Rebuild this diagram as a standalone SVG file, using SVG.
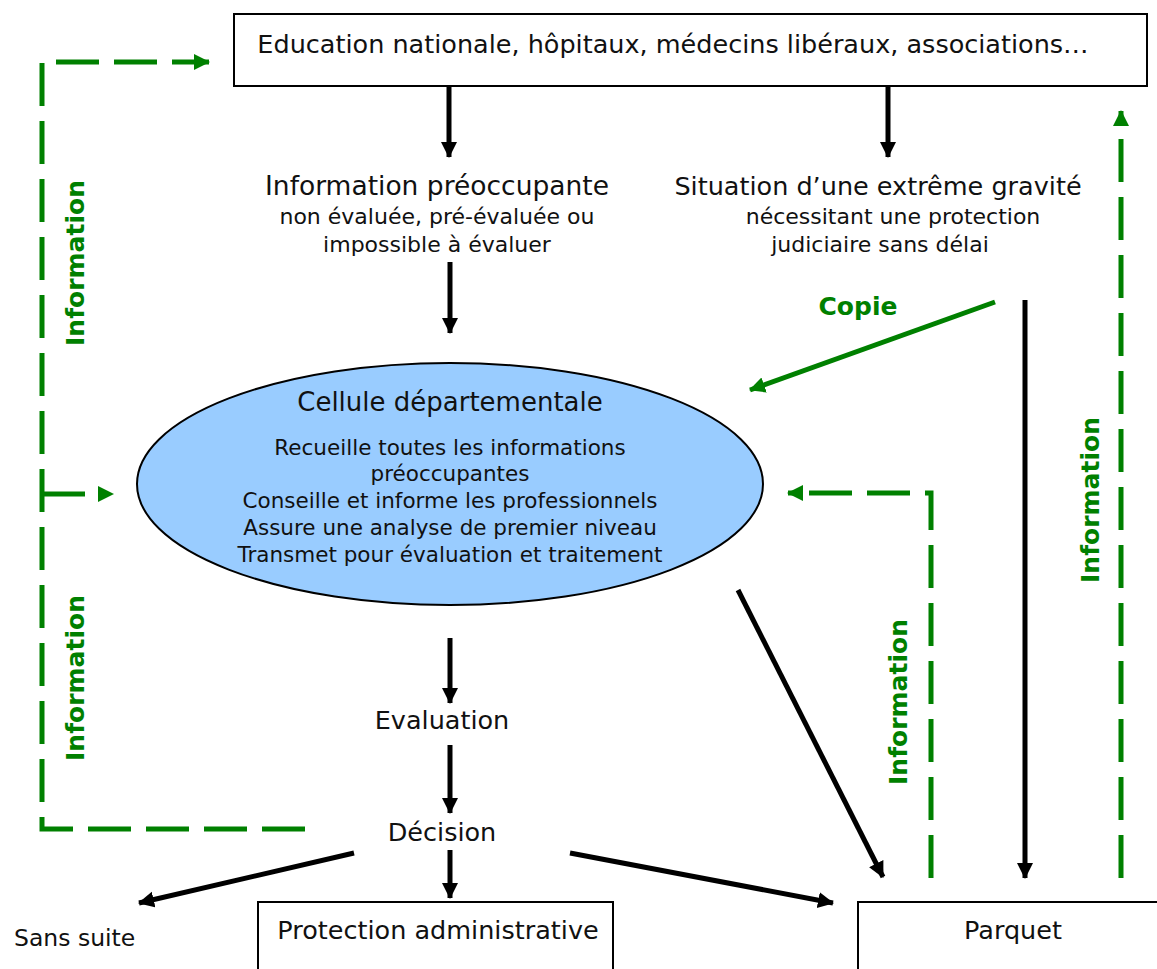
<svg xmlns="http://www.w3.org/2000/svg" width="1157" height="969" viewBox="0 0 1157 969">
<defs>
<style>
text{font-family:"DejaVu Sans","Liberation Sans",sans-serif;fill:#111;}
.t22{font-size:25.5px;}
.t20{font-size:22px;}
.t19{font-size:21.5px;}
.t24{font-size:26px;}
.g{fill:#008000;font-weight:bold;font-size:25px;}
.blk{stroke:#000;stroke-width:5;fill:none;}
.grn{stroke:#008000;stroke-width:5;fill:none;}
.dash{stroke-dasharray:43 15;}
.box{fill:#fff;stroke:#000;stroke-width:2;}
</style>
<marker id="ab" markerUnits="userSpaceOnUse" markerWidth="18" markerHeight="18" refX="15" refY="8" orient="auto"><path d="M0,0 L16,8 L0,16 Z" fill="#000"/></marker>
<marker id="ag" markerUnits="userSpaceOnUse" markerWidth="18" markerHeight="18" refX="15" refY="8" orient="auto"><path d="M0,0 L16,8 L0,16 Z" fill="#008000"/></marker>
</defs>
<g id="top"><rect class="box" x="234" y="14" width="913" height="72"/><text class="t22" x="673" y="53" text-anchor="middle">Education nationale, hôpitaux, médecins libéraux, associations…</text></g>
<g id="ip"><text class="t22" x="437" y="195" text-anchor="middle" style="font-size:26.5px">Information préoccupante</text><text class="t20" x="437" y="224" text-anchor="middle">non évaluée, pré-évaluée ou</text><text class="t20" x="437" y="252" text-anchor="middle">impossible à évaluer</text></g>
<g id="sit"><text class="t22" x="878" y="195" text-anchor="middle">Situation d’une extrême gravité</text><text class="t20" x="893" y="224" text-anchor="middle">nécessitant une protection</text><text class="t20" x="880" y="252" text-anchor="middle">judiciaire sans délai</text></g>
<g id="cell"><ellipse cx="450" cy="484" rx="313" ry="121" fill="#99CCFF" stroke="#000" stroke-width="2"/>
<text class="t24" x="450" y="411" text-anchor="middle">Cellule départementale</text>
<text class="t19" x="450" y="455" text-anchor="middle">Recueille toutes les informations</text>
<text class="t19" x="450" y="481" text-anchor="middle">préoccupantes</text>
<text class="t19" x="450" y="508" text-anchor="middle">Conseille et informe les professionnels</text>
<text class="t19" x="450" y="535" text-anchor="middle">Assure une analyse de premier niveau</text>
<text class="t19" x="450" y="562" text-anchor="middle">Transmet pour évaluation et traitement</text></g>
<g id="eval"><text class="t22" x="442" y="729" text-anchor="middle">Evaluation</text></g>
<g id="dec"><text class="t22" x="442" y="841" text-anchor="middle">Décision</text></g>
<g id="sans"><text class="t22" x="14" y="946" style="font-size:23.5px">Sans suite</text></g>
<g id="pa"><rect class="box" x="258" y="902" width="355" height="80"/><text class="t22" x="438" y="939" text-anchor="middle">Protection administrative</text></g>
<g id="parquet"><rect class="box" x="858" y="902" width="310" height="80"/><text class="t22" x="1013" y="939" text-anchor="middle">Parquet</text></g>
<g id="connectors">
<line class="blk" x1="449" y1="86" x2="449" y2="157" marker-end="url(#ab)"/>
<line class="blk" x1="888" y1="86" x2="888" y2="157" marker-end="url(#ab)"/>
<line class="blk" x1="450" y1="262" x2="450" y2="333" marker-end="url(#ab)"/>
<line class="blk" x1="450" y1="638" x2="450" y2="703" marker-end="url(#ab)"/>
<line class="blk" x1="450" y1="745" x2="450" y2="813" marker-end="url(#ab)"/>
<line class="blk" x1="450" y1="850" x2="450" y2="898" marker-end="url(#ab)"/>
<line class="blk" x1="354" y1="853" x2="139" y2="903" marker-end="url(#ab)"/>
<line class="blk" x1="570" y1="853" x2="833" y2="903" marker-end="url(#ab)"/>
<line class="blk" x1="738" y1="590" x2="883" y2="877" marker-end="url(#ab)"/>
<line class="blk" x1="1025" y1="300" x2="1025" y2="878" marker-end="url(#ab)"/>
<line class="grn" x1="995" y1="302" x2="750" y2="390" marker-end="url(#ag)"/>
<text class="g" x="858" y="315" text-anchor="middle">Copie</text>
<path class="grn dash" d="M305,829 H42 V62 H209" marker-end="url(#ag)"/>
<line class="grn" x1="42" y1="494" x2="85" y2="494"/>
<path d="M98,486 L114,494 L98,502 Z" fill="#008000"/>
<path class="grn dash" d="M931,878 V493 H788" marker-end="url(#ag)"/>
<path class="grn dash" d="M1121,878 V111" marker-end="url(#ag)"/>
<text class="g" transform="translate(84,263) rotate(-90)" text-anchor="middle">Information</text>
<text class="g" transform="translate(84,678) rotate(-90)" text-anchor="middle">Information</text>
<text class="g" transform="translate(907,702) rotate(-90)" text-anchor="middle">Information</text>
<text class="g" transform="translate(1099,500) rotate(-90)" text-anchor="middle">Information</text>
</g>
</svg>
